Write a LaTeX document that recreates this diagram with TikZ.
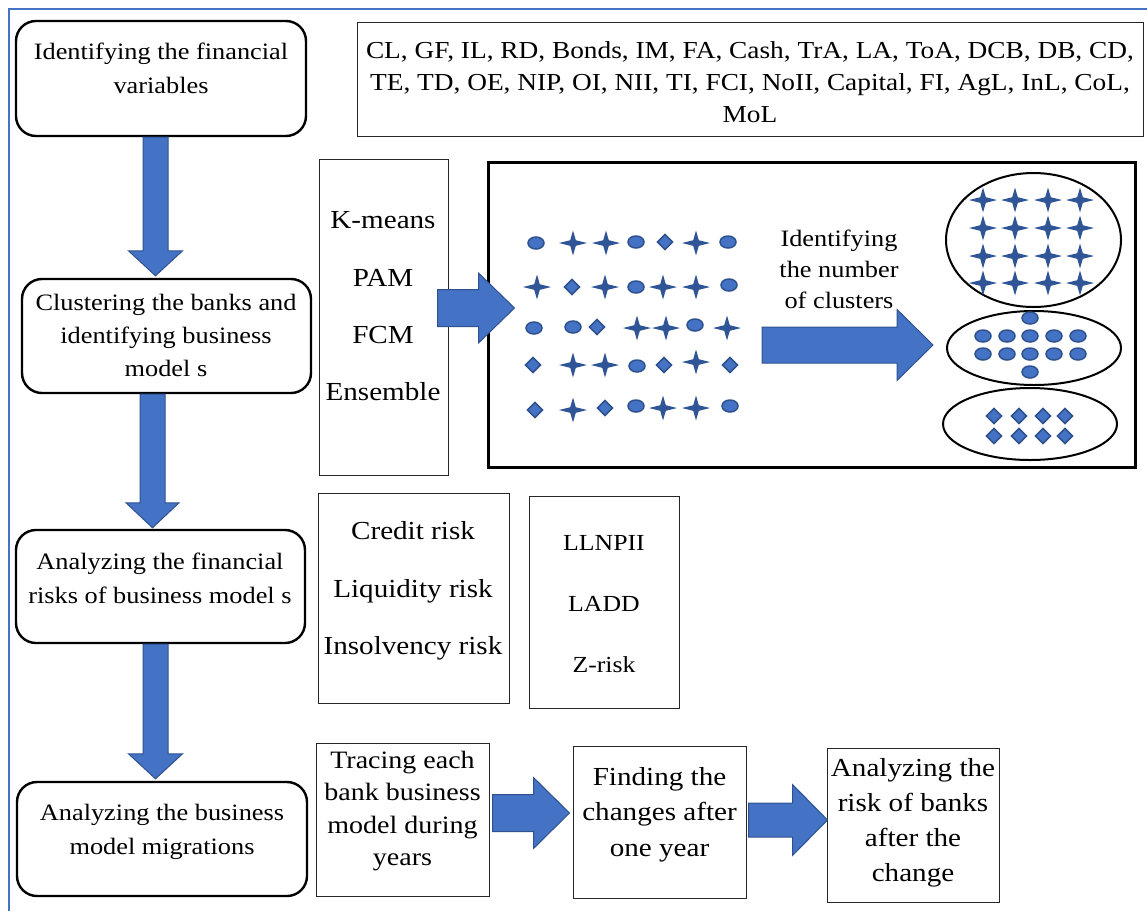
\documentclass[tikz,border=0pt]{standalone}
\usepackage{fontspec}
\setmainfont[FakeStretch=1.12]{Liberation Serif}
\usetikzlibrary{calc,shapes.geometric}
\definecolor{accent}{HTML}{4472C4}
\definecolor{accentdark}{HTML}{2F528F}
\definecolor{stardark}{HTML}{2F5597}
\tikzset{
 rbox/.style={draw=black, line width=2.4pt, rounded corners=20pt, inner sep=0pt},
 tbox/.style={draw=black!85, line width=1pt, inner sep=0pt},
 bigframe/.style={draw=black, line width=3pt, inner sep=0pt},
 txt/.style={align=center, inner sep=0pt},
 blockarrow/.style={fill=accent, draw=accentdark, line width=1pt, line join=miter},
 dotsty/.style={fill=accent, draw=accentdark, line width=1.5pt},
 diasty/.style={fill=accent, draw=accentdark, line width=1.5pt, line join=miter},
 starsty/.style={fill=stardark},
 clus/.style={draw=black, line width=2pt, ellipse, inner sep=0pt},
}
\newcommand{\vblockarrow}[5]{%
 \path[blockarrow] let \p1=#1, \p2=#2 in
 (\x1-#3pt,\y1) -- (\x1+#3pt,\y1) -- (\x1+#3pt,\y2+#5pt) -- (\x1+#4pt,\y2+#5pt) -- (\x1,\y2) -- (\x1-#4pt,\y2+#5pt) -- (\x1-#3pt,\y2+#5pt) -- cycle;}
\newcommand{\hblockarrow}[5]{%
 \path[blockarrow] let \p1=#1, \p2=#2 in
 (\x1,\y1+#3pt) -- (\x2-#5pt,\y1+#3pt) -- (\x2-#5pt,\y1+#4pt) -- (\x2,\y1) -- (\x2-#5pt,\y1-#4pt) -- (\x2-#5pt,\y1-#3pt) -- (\x1,\y1-#3pt) -- cycle;}
\newcommand{\symdot}[1]{\filldraw[dotsty] #1 ellipse [x radius=8pt, y radius=6pt];}
\newcommand{\symdia}[1]{\filldraw[diasty, shift={#1}] (-7.5,0) -- (0,7.5) -- (7.5,0) -- (0,-7.5) -- cycle;}
\newcommand{\symstar}[1]{\fill[starsty, shift={#1}] (-14,0) -- (-2.8,-2.8) -- (0,-12.5) -- (2.8,-2.8) -- (14,0) -- (2.8,2.8) -- (0,12.5) -- (-2.8,2.8) -- cycle;}
\begin{document}
\begin{tikzpicture}[x=1pt,y=-1pt]
\useasboundingbox (0,0) rectangle (1147,911);
\draw[accent, line width=1.5pt] (9,911) -- (9,9) -- (1147,9);

% left column boxes
\node[rbox, minimum width=290pt, minimum height=115pt] (b1) at (161,78.5) {};
\node[rbox, minimum width=289pt, minimum height=114pt] (b2) at (166.5,336) {};
\node[rbox, minimum width=289pt, minimum height=113pt] (b3) at (160.5,586.5) {};
\node[rbox, minimum width=290pt, minimum height=114pt] (b4) at (162,839) {};
\node[txt, font=\fontsize{23.5}{34}\selectfont] (b1t) at (161,68) {Identifying the financial\\variables};
\node[txt, font=\fontsize{23.5}{33}\selectfont] (b2t) at (166,335) {Clustering the banks and\\identifying business\\model s};
\node[txt, font=\fontsize{23.5}{34}\selectfont] (b3t) at (160,578.5) {Analyzing the financial\\risks of business model s};
\node[txt, font=\fontsize{23.5}{34}\selectfont] (b4t) at (162,831.5) {Analyzing the business\\model migrations};

% variables box
\node[tbox, minimum width=786pt, minimum height=114pt] (v) at (750,79) {};
\node[txt, font=\fontsize{24.4}{32}\selectfont] (vt) at (750,82) {CL, GF, IL, RD, Bonds, IM, FA, Cash, TrA, LA, ToA, DCB, DB, CD,\\TE, TD, OE, NIP, OI, NII, TI, FCI, NoII, Capital, FI, AgL, InL, CoL,\\MoL};

% methods box
\node[tbox, minimum width=129pt, minimum height=316pt] (m) at (383.5,317) {};
\node[txt, font=\fontsize{26}{57.3}\selectfont] (mt) at (383,306.5) {K-means\\PAM\\FCM\\Ensemble};

% big box
\node[bigframe, minimum width=647pt, minimum height=305pt] (big) at (811.5,314.5) {};
\node[txt, font=\fontsize{23.5}{31}\selectfont] (lab) at (839,269) {Identifying\\the number\\of clusters};

% risk boxes
\node[tbox, minimum width=191pt, minimum height=210pt] (r1) at (413.5,598) {};
\node[txt, font=\fontsize{26}{57.5}\selectfont] (r1t) at (413,591) {Credit risk\\Liquidity risk\\Insolvency risk};
\node[tbox, minimum width=150pt, minimum height=212pt] (r2) at (604,602) {};
\node[txt, font=\fontsize{23}{61}\selectfont] (r2t) at (604,604) {LLNPII\\LADD\\Z-risk};

% bottom row
\node[tbox, minimum width=173pt, minimum height=153pt] (t1) at (402.5,819.5) {};
\node[txt, font=\fontsize{25}{32.5}\selectfont] (t1t) at (402.5,811) {Tracing each\\bank business\\model during\\years};
\node[tbox, minimum width=173pt, minimum height=152pt] (t2) at (659.5,822) {};
\node[txt, font=\fontsize{26}{35.5}\selectfont] (t2t) at (659.5,814.5) {Finding the\\changes after\\one year};
\node[tbox, minimum width=172pt, minimum height=154pt] (t3) at (913,825) {};
\node[txt, font=\fontsize{26}{35}\selectfont] (t3t) at (913,822.5) {Analyzing the\\risk of banks\\after the\\change};

% cluster ellipses
\node[clus, minimum width=175pt, minimum height=134pt] (c1) at (1033.5,240) {};
\node[clus, minimum width=174pt, minimum height=74pt] (c2) at (1034,348) {};
\node[clus, minimum width=174pt, minimum height=72pt] (c3) at (1030,424) {};

% arrows
\vblockarrow{($(b1.south)+(-5.5,0)$)}{($(b2.north)+(0,-2)$)}{12.5}{27}{25}
\vblockarrow{($(b2.south)+(-14,0)$)}{($(b3.north)+(0,-1)$)}{12.5}{26.5}{25}
\vblockarrow{($(b3.south)+(-5,0)$)}{($(b4.north)+(0,-2)$)}{12.5}{27}{25}
\hblockarrow{($(m.east)+(-11,-9)$)}{($(big.west)+(28,0)$)}{18.5}{35}{36}
\coordinate (h2s) at (762,345);
\hblockarrow{(h2s)}{($(c2.west)+(-13,0)$)}{18}{35.5}{36}
\hblockarrow{($(t1.east)+(3,-6.5)$)}{($(t2.west)+(-3,0)$)}{18.5}{35.5}{36}
\hblockarrow{($(t2.east)+(2,-2)$)}{($(t3.west)+(1,0)$)}{17}{35.5}{35}

% scatter
\symdot{(536,243)}\symstar{(573,243)}\symstar{(606,243)}\symdot{(636,242)}\symdia{(665,242)}\symstar{(696,243)}\symdot{(728,242)}
\symstar{(537,287)}\symdia{(572,287)}\symstar{(605,287)}\symdot{(636,287)}\symstar{(663,287)}\symstar{(696,287)}\symdot{(729,285)}
\symdot{(534,328)}\symdot{(573,327)}\symdia{(597,327)}\symstar{(637,328)}\symstar{(666,328)}\symdot{(695,325)}\symstar{(727,328)}
\symdia{(533,365)}\symstar{(573,365)}\symstar{(605,365)}\symdot{(637,366)}\symdia{(664,365)}\symstar{(696,362)}\symdia{(730,365)}
\symdia{(535,410)}\symstar{(573,410)}\symdia{(605,408)}\symdot{(636,406)}\symstar{(663,408)}\symstar{(696,408)}\symdot{(730,406)}

% cluster contents
\foreach \yy in {200,228,256,283}{\foreach \xx in {983,1015,1048,1080}{\symstar{(\xx,\yy)}}}
\symdot{(1030,318)}\symdot{(1030,372)}
\foreach \xx in {983,1007,1030,1054,1078}{\symdot{(\xx,336)}\symdot{(\xx,354)}}
\foreach \xx in {994,1019,1043,1065}{\symdia{(\xx,416)}\symdia{(\xx,436)}}
\end{tikzpicture}
\end{document}
